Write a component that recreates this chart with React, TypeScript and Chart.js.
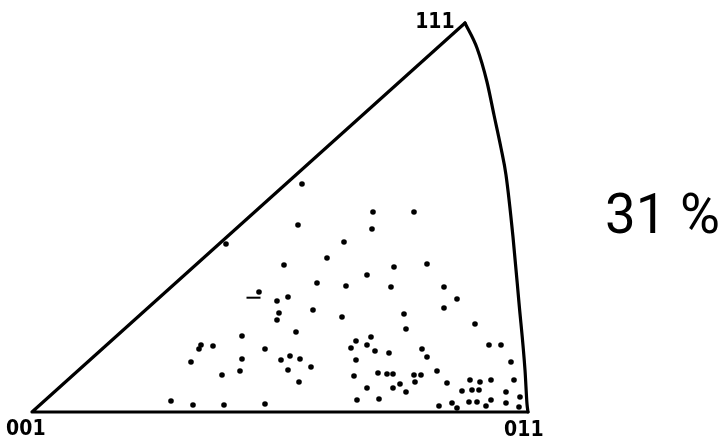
import React, { useEffect, useRef } from "react";
import { Chart, registerables } from "chart.js";

Chart.register(...registerables);

// Coordinates: x measured rightwards from the 001 pole, y upwards from the 001–011 edge.
const poleLabels = ["001", "111", "011"];
const poleLabelX = [-25, 385, 473];
const poleLabelY = [-23, 384, -23.5];

const percentText = "31 %";
const percentX = 575;
const percentY = 179;
const percentRight = 686;

// straight edges 011 -> 001 -> 111
const edgeX = [496, 0, 433];
const edgeY = [0, 0, 389];

// great-circle edge 111 -> 011
const arcX = [433, 445, 455, 462, 469, 474, 481, 487, 493, 495, 496];
const arcY = [389, 364, 330, 297, 264, 237, 175, 109, 42, 8, 0];

const poleX = [
  270, 266, 312, 194, 295, 252, 285, 314, 227, 256, 245, 281, 247, 310, 245, 264, 210, 169, 167, 181,
  233, 258, 159, 210, 249, 268, 279, 190, 208, 256, 267, 139, 161, 192, 233,
  341, 382, 340, 362, 395, 335, 359, 412, 425, 412, 372, 374, 443, 339, 324, 335, 319, 343, 357, 390,
  395, 457, 469, 324, 479, 346, 355, 361, 382, 389, 405, 322, 415, 438, 448, 459, 482, 368, 383, 335,
  361, 374, 430, 440, 447, 474, 325, 347, 420, 437, 445, 459, 474, 488, 407, 425, 454, 487,
];
const poleY = [
  228, 187, 170, 168, 154, 147, 129, 126, 120, 115, 111, 102, 99, 95, 92, 80, 76, 67, 63, 66,
  63, 56, 50, 53, 52, 53, 45, 37, 41, 42, 30, 11, 7, 7, 8,
  200, 200, 183, 145, 148, 137, 125, 125, 113, 104, 98, 83, 88, 75, 71, 67, 64, 61, 59, 63,
  55, 67, 67, 52, 50, 39, 38, 38, 37, 37, 41, 36, 29, 32, 30, 32, 32, 28, 30, 24,
  24, 20, 21, 22, 22, 20, 12, 13, 9, 10, 10, 12, 9, 15, 6, 4, 6, 5,
];

// short dash mark near (221, 114)
const dashX = [221.5];
const dashY = [114.3];

export default function App() {
  const ref = useRef<HTMLCanvasElement | null>(null);

  useEffect(() => {
    document.body.style.margin = "0";
    const canvas = ref.current;
    if (!canvas) return;

    const textPlugin = {
      id: "poleText",
      afterDatasetsDraw(chart: any) {
        const ctx = chart.ctx as CanvasRenderingContext2D;
        const xs = chart.scales.x;
        const ys = chart.scales.y;
        ctx.save();
        ctx.fillStyle = "#000";
        ctx.textBaseline = "alphabetic";
        ctx.textAlign = "left";
        ctx.font = 'bold 21px "DejaVu Sans", sans-serif';
        poleLabels.forEach((t, i) => {
          const m = ctx.measureText(t);
          const px = xs.getPixelForValue(poleLabelX[i]);
          const py = ys.getPixelForValue(poleLabelY[i]);
          ctx.save();
          ctx.translate(px, py);
          ctx.scale(0.9, 1);
          ctx.fillText(t, m.actualBoundingBoxLeft, 0);
          ctx.restore();
        });
        ctx.font = '56px Roboto, "DejaVu Sans", sans-serif';
        const m = ctx.measureText(percentText);
        const inkW = m.actualBoundingBoxLeft + m.actualBoundingBoxRight;
        const left = xs.getPixelForValue(percentX);
        const right = xs.getPixelForValue(percentRight);
        const sx = (right - left) / inkW;
        ctx.translate(left, ys.getPixelForValue(percentY));
        ctx.scale(sx, 1);
        ctx.fillText(percentText, m.actualBoundingBoxLeft, 0);
        ctx.restore();
      },
    };

    const chart = new Chart(canvas, {
      type: "scatter",
      data: {
        datasets: [
          {
            data: edgeX.map((x, i) => ({ x, y: edgeY[i] })),
            showLine: true,
            borderColor: "#000",
            borderWidth: 3.2,
            pointRadius: 0,
            tension: 0,
            borderJoinStyle: "round",
            borderCapStyle: "round",
          },
          {
            data: arcX.map((x, i) => ({ x, y: arcY[i] })),
            showLine: true,
            borderColor: "#000",
            borderWidth: 3.2,
            pointRadius: 0,
            cubicInterpolationMode: "monotone",
            borderJoinStyle: "round",
            borderCapStyle: "round",
          },
          {
            data: poleX.map((x, i) => ({ x, y: poleY[i] })),
            showLine: false,
            pointRadius: 2.8,
            pointBackgroundColor: "#000",
            pointBorderWidth: 0,
          },
          {
            data: dashX.map((x, i) => ({ x, y: dashY[i] })),
            showLine: false,
            pointStyle: "line",
            pointRadius: 7,
            pointBorderColor: "#000",
            pointBorderWidth: 2,
          },
        ],
      } as any,
      options: {
        responsive: false,
        maintainAspectRatio: false,
        devicePixelRatio: 1,
        animation: false,
        layout: { padding: 0, autoPadding: false },
        scales: {
          x: { type: "linear", display: false, min: -32, max: 690 },
          y: { type: "linear", display: false, min: -26, max: 412 },
        },
        plugins: {
          legend: { display: false },
          tooltip: { enabled: false },
        },
      } as any,
      plugins: [textPlugin],
    });

    return () => chart.destroy();
  }, []);

  return <canvas ref={ref} width={722} height={438} style={{ display: "block" }} />;
}
